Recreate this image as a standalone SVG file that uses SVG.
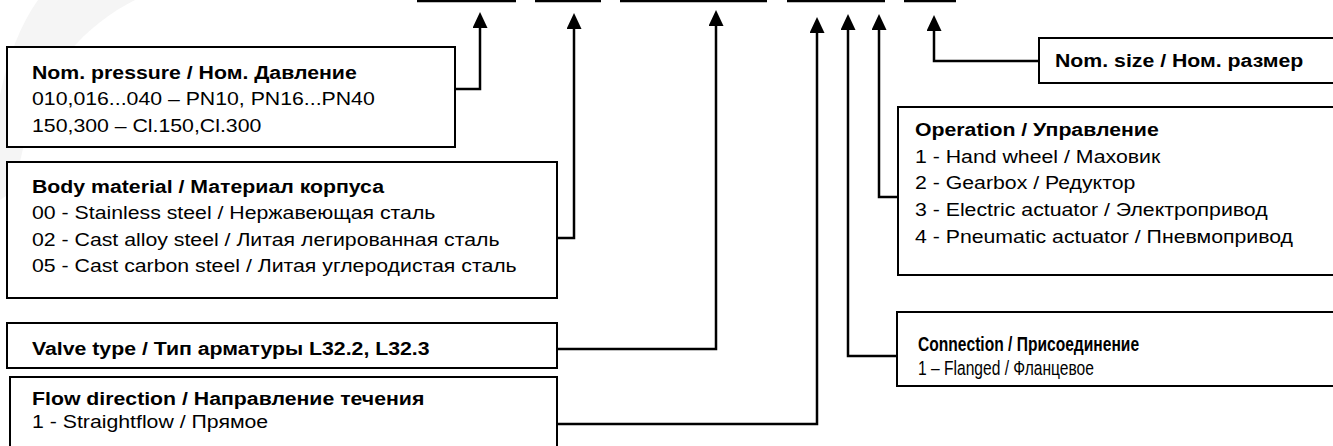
<svg xmlns="http://www.w3.org/2000/svg" width="1333" height="446" viewBox="0 0 1333 446">
<style>
.box{fill:#fff;stroke:#000;stroke-width:2}
.t{font-family:"Liberation Sans",Arial,sans-serif;font-size:18.5px;fill:#000}
.n{font-size:19.5px}
.b{font-weight:bold}
.ln{fill:none;stroke:#000;stroke-width:2.5}
.top{stroke:#000;stroke-width:2.5}
</style>
<defs>
<marker id="ah" viewBox="0 0 16 15" refX="0" refY="7.5" markerWidth="16" markerHeight="15" markerUnits="userSpaceOnUse" orient="auto">
<path d="M0,0 L16,7.5 L0,15 Z" fill="#000"/>
</marker>
</defs>
<rect width="1333" height="446" fill="#fff"/>
<path d="M38,0 H135 C85,25 45,70 28,130 C22,150 18,170 15,190 L0,200 V95 C8,58 20,25 38,0 Z" fill="#f5f5f5"/>
<g id="code-lines">
<line class="top" x1="417" y1="1" x2="516" y2="1"/>
<line class="top" x1="535" y1="1" x2="601" y2="1"/>
<line class="top" x1="620" y1="1" x2="767" y2="1"/>
<line class="top" x1="787" y1="1" x2="885" y2="1"/>
<line class="top" x1="904" y1="1" x2="956" y2="1"/>
</g>
<g id="connectors">
<path class="ln" d="M455,89 H480 V28" marker-end="url(#ah)"/>
<path class="ln" d="M557,238 H574 V29" marker-end="url(#ah)"/>
<path class="ln" d="M557,349 H716 V26" marker-end="url(#ah)"/>
<path class="ln" d="M557,424 H817 V33" marker-end="url(#ah)"/>
<path class="ln" d="M897,356 H848 V30" marker-end="url(#ah)"/>
<path class="ln" d="M898,197 H879 V30" marker-end="url(#ah)"/>
<path class="ln" d="M1039,61 H934 V31" marker-end="url(#ah)"/>
</g>
<g id="nom-pressure">
<rect class="box" x="7" y="47" width="448" height="100"/>
<text class="t b" transform="translate(32,79) scale(1.15,1)">Nom. pressure / Ном. Давление</text>
<text class="t" transform="translate(32,105) scale(1.15,1)">010,016...040 – PN10, PN16...PN40</text>
<text class="t" transform="translate(32,132) scale(1.15,1)">150,300 – Cl.150,Cl.300</text>
</g>
<g id="body-material">
<rect class="box" x="7" y="162" width="550" height="136"/>
<text class="t b" transform="translate(32,193) scale(1.15,1)">Body material / Материал корпуса</text>
<text class="t" transform="translate(32,219) scale(1.15,1)">00 - Stainless steel / Нержавеющая сталь</text>
<text class="t" transform="translate(32,246) scale(1.15,1)">02 - Cast alloy steel / Литая легированная сталь</text>
<text class="t" transform="translate(32,272) scale(1.15,1)">05 - Cast carbon steel / Литая углеродистая сталь</text>
</g>
<g id="valve-type">
<rect class="box" x="7" y="323" width="550" height="45"/>
<text class="t b" transform="translate(32,355) scale(1.15,1)">Valve type / Тип арматуры L32.2, L32.3</text>
</g>
<g id="flow-direction">
<rect class="box" x="10" y="377" width="547" height="80"/>
<text class="t b" transform="translate(32,405) scale(1.15,1)">Flow direction / Направление течения</text>
<text class="t" transform="translate(32,428) scale(1.15,1)">1 - Straightflow / Прямое</text>
</g>
<g id="nom-size">
<rect class="box" x="1039" y="38" width="310" height="45"/>
<text class="t b" transform="translate(1055,67) scale(1.15,1)">Nom. size / Ном. размер</text>
</g>
<g id="operation">
<rect class="box" x="898" y="107" width="450" height="168"/>
<text class="t b" transform="translate(915,136) scale(1.15,1)">Operation / Управление</text>
<text class="t" transform="translate(915,163) scale(1.15,1)">1 - Hand wheel / Маховик</text>
<text class="t" transform="translate(915,189) scale(1.15,1)">2 - Gearbox / Редуктор</text>
<text class="t" transform="translate(915,216) scale(1.15,1)">3 - Electric actuator / Электропривод</text>
<text class="t" transform="translate(915,243) scale(1.15,1)">4 - Pneumatic actuator / Пневмопривод</text>
</g>
<g id="connection">
<rect class="box" x="897" y="312" width="450" height="74"/>
<text class="t n b" transform="translate(918,351) scale(0.8,1)">Connection / Присоединение</text>
<text class="t n" transform="translate(918,375) scale(0.8,1)">1 – Flanged / Фланцевое</text>
</g>
</svg>
